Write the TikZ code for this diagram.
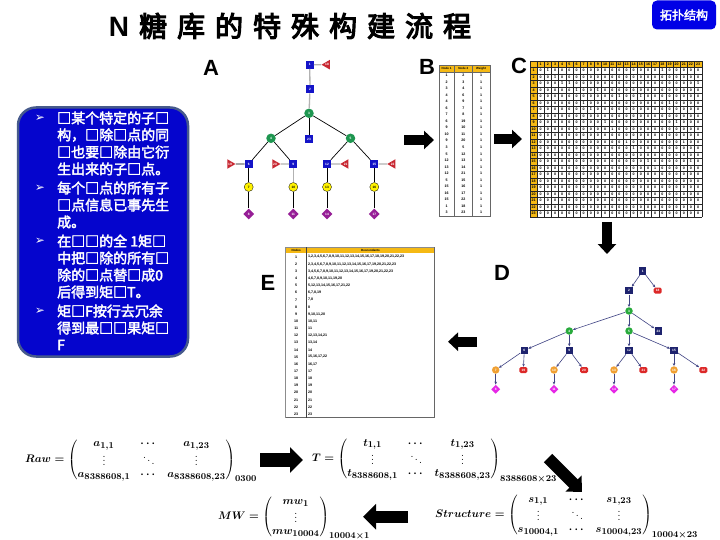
\documentclass[tikz,border=0pt]{standalone}
\usepackage{amsmath}
\usepackage{bm}
\usepackage{fontspec}
\usetikzlibrary{shapes.geometric,arrows.meta}
\newfontfamily\cjkb{Noto Sans CJK SC}[FakeBold=2.5]
\newfontfamily\cjkbt{Noto Sans CJK SC}[FakeBold=4]
\newfontfamily\dejavu{DejaVu Sans}
\newfontfamily\arial{Liberation Sans}
\DeclareMathSizes{10.5}{10.5}{9}{7}
\newcommand{\nlabfont}{\arial\bfseries\fontsize{3.2}{3.5}\selectfont}
\newcommand{\tabfont}{\arial\bfseries\fontsize{3.6}{4}\selectfont}
\newcommand{\tsp}{\hspace{10pt}}
\definecolor{btnblue}{RGB}{0,0,230}
\definecolor{boxblue}{RGB}{5,5,205}
\definecolor{boxedge}{RGB}{70,90,140}
\definecolor{hdr}{RGB}{245,185,20}
\definecolor{asqc}{RGB}{20,20,200}
\definecolor{agreen}{RGB}{30,150,80}
\definecolor{apurple}{RGB}{150,30,150}
\definecolor{ared}{RGB}{200,40,50}
\definecolor{dnavy}{RGB}{30,35,110}
\definecolor{dgreen}{RGB}{40,170,60}
\definecolor{dorange}{RGB}{240,160,50}
\definecolor{dred}{RGB}{220,40,40}
\definecolor{dmag}{RGB}{230,40,230}
\begin{document}
\begin{tikzpicture}[x=1pt,y=-1pt,
  boxtxt/.style={anchor=west, inner sep=0, text=white, font=\cjkb\fontsize{14}{16}\selectfont},
  bul/.style={inner sep=0, text=white, font=\dejavu\fontsize{12}{12}\selectfont},
  letter/.style={font=\arial\bfseries\fontsize{22}{22}\selectfont},
  asq/.style={rectangle, fill=asqc, minimum size=8pt, inner sep=0, text=white, font=\nlabfont},
  agr/.style={circle, fill=agreen, minimum size=9.5pt, inner sep=0, text=white, font=\nlabfont},
  ayel/.style={circle, fill=yellow, draw=black, line width=0.3pt, minimum size=9pt, inner sep=0, font=\nlabfont},
  adia/.style={diamond, fill=apurple, minimum size=11pt, inner sep=0, text=white, font=\nlabfont},
  atri/.style={regular polygon, regular polygon sides=3, shape border rotate=90, fill=ared, minimum size=11pt, inner sep=0, text=white, font=\nlabfont},
  atrir/.style={atri, shape border rotate=-90},
  abl/.style={draw=black, line width=0.7pt},
  agy/.style={draw=gray!60, line width=1.3pt},
  dsq/.style={rectangle, fill=dnavy, minimum size=7.5pt, inner sep=0, text=white, font=\nlabfont},
  dgr/.style={circle, fill=dgreen, minimum size=7.5pt, inner sep=0, text=white, font=\nlabfont},
  dor/.style={circle, fill=dorange, minimum size=7.5pt, inner sep=0, text=white, font=\nlabfont},
  drd/.style={rectangle, rounded corners=1.5pt, fill=dred, minimum width=8pt, minimum height=6pt, inner sep=0, text=white, font=\nlabfont},
  dmg/.style={diamond, fill=dmag, minimum size=9pt, inner sep=0, text=white, font=\nlabfont},
  dedge/.style={draw=dnavy!85, line width=0.6pt, -{Stealth[length=3pt,width=2.6pt]}},
  tabtxt/.style={inner sep=0, font=\tabfont},
  gridl/.style={draw=black!85, line width=0.35pt},
  bigarr/.style={line width=10pt, -{Triangle[length=10pt,width=18pt]}},
  hugearr/.style={line width=14pt, -{Triangle[length=13pt,width=25pt]}},
  formula/.style={anchor=west, inner sep=0, font=\fontsize{10.5}{12}\selectfont\boldmath}
]
\useasboundingbox (0,0) rectangle (720,540);
\fill[white] (0,0) rectangle (720,540);

% title and button
\node[font=\cjkbt\fontsize{28}{30}\selectfont, inner sep=0] (title) at (290,26)
  {{\arial\bfseries N}\tsp 糖\tsp 库\tsp 的\tsp 特\tsp 殊\tsp 构\tsp 建\tsp 流\tsp 程};
\node[fill=btnblue, rounded corners=5pt, minimum width=64pt, minimum height=29pt, inner sep=0,
  text=white, font=\cjkb\fontsize{12}{14}\selectfont] (btn) at (684,15) {拓扑结构};

% blue box
\node[draw=boxedge, line width=2.5pt, fill=boxblue, rounded corners=18pt,
  minimum width=170pt, minimum height=249pt, inner sep=0] (box) at (103,232) {};
\node[bul] (b1) at (40,118) {➢};
\node[bul] (b2) at (40,188) {➢};
\node[bul] (b3) at (40,241) {➢};
\node[bul] (b4) at (40,311) {➢};
\node[boxtxt] (t1) at (57,118) {□某个特定的子□};
\node[boxtxt] (t2) at (57,135) {构，□除□点的同};
\node[boxtxt] (t3) at (57,152) {□也要□除由它衍};
\node[boxtxt] (t4) at (57,169) {生出来的子□点。};
\node[boxtxt] (t5) at (57,188) {每个□点的所有子};
\node[boxtxt] (t6) at (57,205) {□点信息已事先生};
\node[boxtxt] (t7) at (57,222) {成。};
\node[boxtxt] (t8) at (57,241) {在□□的全 1矩□};
\node[boxtxt] (t9) at (57,258) {中把□除的所有□};
\node[boxtxt] (t10) at (57,275) {除的□点替□成0};
\node[boxtxt] (t11) at (57,292) {后得到矩□T。};
\node[boxtxt] (t12) at (57,311) {矩□F按行去冗余};
\node[boxtxt] (t13) at (57,328) {得到最□□果矩□};
\node[boxtxt] (t14) at (57,345) {F};

% letters
\node[letter] (LA) at (211,68) {A};
\node[letter] (LB) at (427,67) {B};
\node[letter] (LC) at (519,66) {C};
\node[letter] (LD) at (502,273) {D};
\node[letter] (LE) at (268,283) {E};

% tree A
\node[asq] (a1) at (309.7,64.7) {1};
\node[atri] (a18) at (327,64.7) {18};
\node[asq] (a2) at (310,89.3) {2};
\node[agr] (a3) at (309,113.3) {3};
\node[agr] (a4) at (271,138.3) {4};
\node[asq] (a23) at (309,139.3) {23};
\node[agr] (a5) at (350.5,138.3) {5};
\node[asq] (a6) at (248.7,164) {6};
\node[asq] (a9) at (293.3,164) {9};
\node[asq] (a12) at (327,164) {12};
\node[asq] (a15) at (374.3,164) {15};
\node[atrir] (a19) at (230,164) {19};
\node[atrir] (a20) at (275,164) {20};
\node[atri] (a21) at (345.7,164) {21};
\node[atri] (a22) at (392.7,164) {22};
\node[ayel] (a7) at (248.7,187) {7};
\node[ayel] (a10) at (293.3,187) {10};
\node[ayel] (a13) at (327,187) {13};
\node[ayel] (a16) at (374.3,187) {16};
\node[adia] (a8) at (248.7,214) {8};
\node[adia] (a11) at (293.3,214) {11};
\node[adia] (a14) at (327,214) {14};
\node[adia] (a17) at (374.3,214) {17};
\draw[agy] (a1) -- (a18);
\draw[agy] (a1) -- (a2);
\draw[agy] (a2) -- (a3);
\draw[abl] (a3) -- (a4);
\draw[abl] (a3) -- (a5);
\draw[abl] (a3) -- (a23);
\draw[abl] (a4) -- (a6);
\draw[abl] (a4) -- (a9);
\draw[abl] (a5) -- (a12);
\draw[abl] (a5) -- (a15);
\draw[abl] (a6) -- (a19);
\draw[agy] (a9) -- (a20);
\draw[agy] (a12) -- (a21);
\draw[agy] (a15) -- (a22);
\draw[abl, line width=1.2pt] (a6) -- (a7);
\draw[abl] (a7) -- (a8);
\draw[agy] (a9) -- (a10);
\draw[abl] (a10) -- (a11);
\draw[abl] (a12) -- (a13);
\draw[abl] (a13) -- (a14);
\draw[abl] (a15) -- (a16);
\draw[abl] (a16) -- (a17);

% table B
\fill[hdr] (439,65) rectangle (490,72);
\draw[black!60, line width=0.5pt] (439,65) rectangle (490,216);
\draw[black!60, line width=0.5pt] (439,72) -- (490,72);
\draw[black!60, line width=0.5pt] (454.3,65) -- (454.3,216);
\draw[black!60, line width=0.5pt] (472.3,65) -- (472.3,216);
\node[tabtxt, font=\arial\bfseries\fontsize{3}{3}\selectfont] (bh1) at (446.6,68.5) {Node 1};
\node[tabtxt, font=\arial\bfseries\fontsize{3}{3}\selectfont] (bh2) at (463.3,68.5) {Node 2};
\node[tabtxt, font=\arial\bfseries\fontsize{3}{3}\selectfont] (bh3) at (481.1,68.5) {Weight};
\foreach \p/\q [count=\i] in {1/2,2/3,3/4,4/6,4/9,6/7,7/8,6/19,9/10,10/11,9/20,3/5,5/12,12/13,13/14,12/21,5/15,15/16,16/17,15/22,1/18,3/23} {
  \node[tabtxt] (bp\i) at (446.6,{72+(\i-0.5)*6.545}) {\p};
  \node[tabtxt] (bq\i) at (463.3,{72+(\i-0.5)*6.545}) {\q};
  \node[tabtxt] (bw\i) at (481.1,{72+(\i-0.5)*6.545}) {1};
}

% matrix C
\fill[hdr] (530,61) rectangle (701.7,67.49);
\fill[hdr] (530,61) rectangle (537.17,216.7);
\foreach \i in {0,...,24} {
  \draw[gridl] ({530+\i*7.154},61) -- ({530+\i*7.154},216.7);
  \draw[gridl] (530,{61+\i*6.4875}) -- (701.7,{61+\i*6.4875});
}
\foreach \c in {1,...,23} {
  \node[tabtxt] (ch\c) at ({530+(\c+0.5)*7.154},64.24) {\c};
  \node[tabtxt] (rh\c) at (533.58,{61+(\c+0.5)*6.4875}) {\c};
}
\foreach \r in {1,...,23} {
  \foreach \c in {1,...,23} {
    \node[tabtxt] (m\r-\c) at ({530+(\c+0.5)*7.154},{61+(\r+0.5)*6.4875}) {0};
  }
}
\foreach \r/\c in {1/2,1/18,2/3,3/4,3/5,3/23,4/6,4/9,5/12,5/15,6/7,6/19,7/8,9/10,9/20,10/11,12/13,12/21,13/14,15/16,15/22,16/17} {
  \node[tabtxt, fill=white, inner sep=0.4pt] (o\r-\c) at ({530+(\c+0.5)*7.154},{61+(\r+0.5)*6.4875}) {1};
}

% tree D
\node[dsq] (d1) at (642.7,271) {1};
\node[dsq] (d2) at (629,290.7) {2};
\node[drd] (d18) at (657.7,290.7) {18};
\node[dgr] (d3) at (629,311) {3};
\node[dgr] (d4) at (569.3,331) {4};
\node[dgr] (d5) at (629,331) {5};
\node[dsq] (d23) at (658.3,331) {23};
\node[dsq] (d6) at (524.3,350.3) {6};
\node[dsq] (d9) at (569.3,350.3) {9};
\node[dsq] (d12) at (629,350.3) {12};
\node[dsq] (d15) at (674,350.3) {15};
\node[dor] (d7) at (495.7,370) {7};
\node[drd] (d19) at (523.3,370) {19};
\node[dor] (d10) at (554,370) {10};
\node[drd] (d20) at (584,370) {20};
\node[dor] (d13) at (614,370) {13};
\node[drd] (d21) at (643.3,370) {21};
\node[dor] (d16) at (674,370) {16};
\node[drd] (d22) at (703.3,370) {22};
\node[dmg] (d8) at (495.7,389.3) {8};
\node[dmg] (d11) at (554,389.3) {11};
\node[dmg] (d14) at (614,389.3) {14};
\node[dmg] (d17) at (674,389.3) {17};
\foreach \s/\t in {1/2,1/18,2/3,3/4,3/5,3/23,4/6,4/9,5/12,5/15,6/7,6/19,9/10,9/20,12/13,12/21,15/16,15/22,7/8,10/11,13/14,16/17}
  \draw[dedge] (d\s) -- (d\t);

% table E
\fill[hdr] (285.7,247.3) rectangle (434.3,253.3);
\draw[black!45, line width=0.5pt] (285.7,247.3) rectangle (434.3,417.7);
\draw[black!60, line width=1pt] (434.3,247.3) -- (434.3,417.7) -- (285.7,417.7);
\draw[black!75, line width=0.8pt] (306.7,247.3) -- (306.7,417.7);
\node[tabtxt, font=\arial\bfseries\fontsize{3}{3}\selectfont] (eh1) at (296.2,250.3) {Nodes};
\node[tabtxt, font=\arial\bfseries\fontsize{3}{3}\selectfont] (eh2) at (370.5,250.3) {Descendants};
\foreach \d [count=\i] in {
  {1,2,3,4,5,6,7,8,9,10,11,12,13,14,15,16,17,18,19,20,21,22,23},
  {2,3,4,5,6,7,8,9,10,11,12,13,14,15,16,17,19,20,21,22,23},
  {3,4,5,6,7,8,9,10,11,12,13,14,15,16,17,19,20,21,22,23},
  {4,6,7,8,9,10,11,19,20},
  {5,12,13,14,15,16,17,21,22},
  {6,7,8,19},{7,8},{8},{9,10,11,20},{10,11},{11},{12,13,14,21},{13,14},{14},
  {15,16,17,22},{16,17},{17},{18},{19},{20},{21},{22},{23}} {
  \node[tabtxt] (en\i) at (296.2,{253.3+(\i-0.5)*7.148}) {\i};
  \node[tabtxt, anchor=west] (ed\i) at (308,{253.3+(\i-0.5)*7.148}) {\d};
}

% formulas
\node[formula] (raw) at (25,460) {$Raw = \begin{pmatrix} a_{1,1} & \cdots & a_{1,23}\\ \vdots & \ddots & \vdots\\ a_{8388608,1} & \cdots & a_{8388608,23}\end{pmatrix}_{0300}$};
\node[formula] (tm) at (312,460) {$T = \begin{pmatrix} t_{1,1} & \cdots & t_{1,23}\\ \vdots & \ddots & \vdots\\ t_{8388608,1} & \cdots & t_{8388608,23}\end{pmatrix}_{8388608\times 23}$};
\node[formula] (mw) at (218,518) {$MW = \begin{pmatrix} mw_{1}\\ \vdots\\ mw_{10004}\end{pmatrix}_{10004\times 1}$};
\node[formula] (st) at (435,516) {$Structure = \begin{pmatrix} s_{1,1} & \cdots & s_{1,23}\\ \vdots & \ddots & \vdots\\ s_{10004,1} & \cdots & s_{10004,23}\end{pmatrix}_{10004\times 23}$};

% big arrows
\coordinate (ab1) at (404,140);
\coordinate (ab2) at (434,140);
\coordinate (bc1) at (494,139);
\coordinate (bc2) at (522,139);
\coordinate (cd1) at (607,222);
\coordinate (cd2) at (607,254);
\coordinate (de1) at (477,341.7);
\coordinate (de2) at (448,341.7);
\coordinate (rt1) at (260,460);
\coordinate (rt2) at (303,460);
\coordinate (ts1) at (548,458);
\coordinate (ts2) at (582,492);
\coordinate (sm1) at (408,516.7);
\coordinate (sm2) at (363,516.7);
\draw[bigarr] (ab1) -- (ab2);
\draw[bigarr] (bc1) -- (bc2);
\draw[bigarr] (cd1) -- (cd2);
\draw[bigarr] (de1) -- (de2);
\draw[hugearr] (rt1) -- (rt2);
\draw[bigarr, line width=12pt, -{Triangle[length=12pt,width=22pt]}] (ts1) -- (ts2);
\draw[hugearr, line width=12pt] (sm1) -- (sm2);
\end{tikzpicture}
\end{document}
